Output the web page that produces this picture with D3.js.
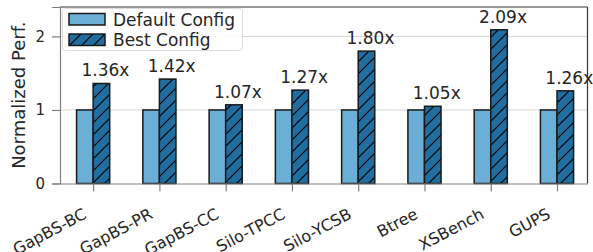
<!DOCTYPE html>
<html lang="en">
<head>
    <meta charset="UTF-8">
    <title>Normalized Performance</title>
    <style>
        body {
            margin: 0;
            background: #fff;
        }

        svg text {
            font-family: 'DejaVu Sans', sans-serif;
            fill: #262626;
        }
    </style>
</head>
<body>
    <svg id="chart" width="593" height="252"></svg>

    <script src="https://d3js.org/d3.v7.min.js"></script>
    <script>
        // Chart data
        const categories = ["GapBS-BC", "GapBS-PR", "GapBS-CC", "Silo-TPCC", "Silo-YCSB", "Btree", "XSBench", "GUPS"];
        const defaultValues = [1, 1, 1, 1, 1, 1, 1, 1];
        const bestValues = [1.36, 1.42, 1.07, 1.27, 1.80, 1.05, 2.09, 1.26];
        const speedupLabels = ["1.36x", "1.42x", "1.07x", "1.27x", "1.80x", "1.05x", "2.09x", "1.26x"];
        const yTicks = [0, 1, 2];
        const seriesNames = ["Default Config", "Best Config"];

        const plotLeft = 60, plotRight = 587.5, plotTop = 7, plotBottom = 183.5;
        const barWidth = 0.25;

        const svg = d3.select("#chart");

        const x = d3.scaleLinear().domain([-0.5, 7.46]).range([plotLeft, plotRight]);
        const y = d3.scaleLinear().domain([0, 2.4]).range([plotBottom, plotTop]);

        // Hatch pattern for the best config bars
        const defs = svg.append("defs");
        const pattern = defs.append("pattern")
            .attr("id", "hatch")
            .attr("patternUnits", "userSpaceOnUse")
            .attr("width", 12)
            .attr("height", 12);
        pattern.append("rect")
            .attr("width", 12)
            .attr("height", 12)
            .attr("fill", "#1f6e9f");
        pattern.append("path")
            .attr("d", "M-3,3 L3,-3 M0,12 L12,0 M9,15 L15,9")
            .attr("stroke", "#000")
            .attr("stroke-width", 1.2);

        // Grid lines
        svg.append("g")
            .selectAll("line")
            .data(yTicks.filter(d => d > 0))
            .join("line")
            .attr("x1", plotLeft)
            .attr("x2", plotRight)
            .attr("y1", d => y(d))
            .attr("y2", d => y(d))
            .attr("stroke", "#d6d6d6")
            .attr("stroke-width", 1);

        // Bars
        const dx = x(barWidth) - x(0);

        svg.append("g")
            .selectAll("rect")
            .data(defaultValues)
            .join("rect")
            .attr("x", (d, i) => x(i - barWidth))
            .attr("y", d => y(d))
            .attr("width", dx)
            .attr("height", d => y(0) - y(d))
            .attr("fill", "#6baed6")
            .attr("stroke", "#1a1a1a")
            .attr("stroke-width", 1.5);

        svg.append("g")
            .selectAll("rect")
            .data(bestValues)
            .join("rect")
            .attr("x", (d, i) => x(i))
            .attr("y", d => y(d))
            .attr("width", dx)
            .attr("height", d => y(0) - y(d))
            .attr("fill", "url(#hatch)")
            .attr("stroke", "#1a1a1a")
            .attr("stroke-width", 1.5);

        // Speedup labels
        svg.append("g")
            .selectAll("text")
            .data(bestValues)
            .join("text")
            .attr("x", (d, i) => x(i + barWidth / 2) + 4)
            .attr("y", d => y(d) - 7)
            .attr("text-anchor", "middle")
            .style("font-size", "17px")
            .text((d, i) => speedupLabels[i]);

        // Axes frame
        svg.append("line")
            .attr("x1", plotLeft).attr("x2", plotRight).attr("y1", plotTop).attr("y2", plotTop)
            .attr("stroke", "#333").attr("stroke-width", 1.2);
        svg.append("line")
            .attr("x1", plotRight).attr("x2", plotRight).attr("y1", plotTop).attr("y2", plotBottom)
            .attr("stroke", "#333").attr("stroke-width", 1.2);

        // Y axis
        const yAxis = svg.append("g")
            .attr("transform", `translate(${plotLeft},0)`)
            .call(d3.axisLeft(y).tickValues(yTicks).tickFormat(d3.format("d")).tickSize(8).tickPadding(7));
        yAxis.select(".domain").attr("stroke", "#808080").attr("stroke-width", 1.2);
        yAxis.selectAll(".tick line").attr("stroke", "#808080").attr("stroke-width", 1.2);
        yAxis.selectAll(".tick text")
            .style("font-size", "15px")
            .attr("fill", "#262626");

        // X axis
        const xAxis = svg.append("g")
            .attr("transform", `translate(0,${plotBottom})`)
            .call(d3.axisBottom(x).tickValues(d3.range(categories.length)).tickFormat(i => categories[i]).tickSize(8).tickSizeOuter(0));
        xAxis.select(".domain").attr("stroke", "#808080").attr("stroke-width", 1.2);
        xAxis.selectAll(".tick line").attr("stroke", "#808080").attr("stroke-width", 1.2);
        xAxis.selectAll(".tick text")
            .style("font-size", "16px")
            .attr("fill", "#262626")
            .attr("text-anchor", "end")
            .attr("dy", null)
            .attr("y", 0)
            .attr("transform", "translate(-6,34) rotate(-28)");

        // Y axis label
        svg.append("text")
            .attr("transform", `translate(25,${(plotTop + plotBottom) / 2}) rotate(-90)`)
            .attr("text-anchor", "middle")
            .style("font-size", "18px")
            .text("Normalized Perf.");

        // Legend
        const legend = svg.append("g");
        legend.append("rect")
            .attr("x", 62.5)
            .attr("y", 8.5)
            .attr("width", 180)
            .attr("height", 42)
            .attr("rx", 3)
            .attr("fill", "#fff")
            .attr("fill-opacity", 0.85)
            .attr("stroke", "#dcdcdc");

        const legendItems = legend.selectAll("g.item")
            .data(seriesNames)
            .join("g")
            .attr("class", "item")
            .attr("transform", (d, i) => `translate(69,${13.5 + i * 20.5})`);

        legendItems.append("rect")
            .attr("width", 36)
            .attr("height", 11.5)
            .attr("fill", (d, i) => i === 0 ? "#6baed6" : "url(#hatch)")
            .attr("stroke", "#1a1a1a")
            .attr("stroke-width", 1.5);

        legendItems.append("text")
            .attr("x", 44)
            .attr("y", 12)
            .style("font-size", "17px")
            .text(d => d);
    </script>
</body>
</html>
